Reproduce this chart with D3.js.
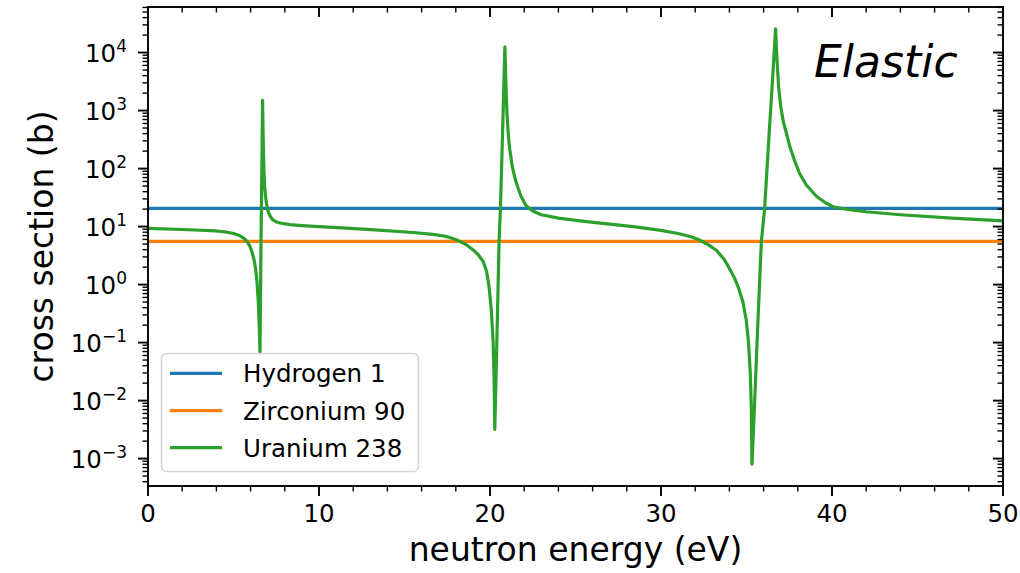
<!DOCTYPE html>
<html>
<head>
<meta charset="utf-8">
<script src="https://cdn.jsdelivr.net/npm/d3@7/dist/d3.min.js"></script>
<style>
  html, body { margin: 0; padding: 0; background: #fff; }
  svg { display: block; }
  text { font-family: "DejaVu Sans", sans-serif; fill: #000; }
</style>
</head>
<body>
<svg id="chart" width="1020" height="573"></svg>
<script>
// Elastic scattering cross sections (barns) against neutron energy (eV)
const seriesNames = ["Hydrogen 1", "Zirconium 90", "Uranium 238"];
const seriesColors = ["#1f77b4", "#ff7f0e", "#2ca02c"];

// Hydrogen 1 and Zirconium 90 are flat over this range
const h1Energy = [0, 50];
const h1Sigma = [20.6, 20.6];
const zr90Energy = [0, 50];
const zr90Sigma = [5.55, 5.55];

// Uranium 238, with its resonances near 6.7, 20.9 and 36.7 eV
const u238Energy = [
  0, 2, 4, 4.5, 5.0, 5.3, 5.6, 5.8, 5.96, 6.1, 6.2, 6.3, 6.38, 6.45, 6.5, 6.55,
  6.6, 6.65, 6.70,
  6.72, 6.75, 6.78, 6.82, 6.88, 6.95, 7.03, 7.15, 7.3, 7.5, 7.8, 8.3, 9, 10,
  11.6, 13.5, 15.5, 16.5, 17.0, 17.5, 18.0, 18.2, 18.6, 19.0, 19.3, 19.6,
  19.8, 19.95, 20.08, 20.18, 20.24, 20.28,
  20.40, 20.53, 20.61, 20.75, 20.87,
  20.93, 20.99, 21.08, 21.16, 21.3, 21.45, 21.6, 21.8, 22.1, 22.5, 23.0,
  24.0, 25.5, 27, 28.5, 30, 31, 31.8, 32.3, 32.8, 33.24, 33.7, 34.0, 34.3,
  34.55, 34.79, 34.98, 35.12, 35.22, 35.28, 35.32,
  35.48, 35.65, 35.87, 36.06, 36.35, 36.53, 36.70,
  36.78, 36.88, 37.0, 37.15, 37.33, 37.55, 37.8, 38.1, 38.5, 39.1, 39.6,
  40.05, 41, 42, 44, 47, 50
];
const u238Sigma = [
  9.3, 8.9, 8.4, 8.1, 7.6, 7.1, 6.3, 5.5, 4.6, 3.5, 2.7, 1.8, 1.07, 0.5, 0.22, 0.066,
  3, 60, 1500,
  600, 200, 90, 50, 32, 23, 18, 15, 13, 12, 11.4, 10.8, 10.4, 10.0,
  9.4, 8.7, 7.9, 7.4, 7.1, 6.7, 6.0, 5.6, 4.9, 4.0, 3.3, 2.5,
  1.7, 0.9, 0.35, 0.11, 0.025, 0.0032,
  0.1, 5.5, 20.5, 600, 12600,
  3000, 900, 350, 210, 110, 70, 50, 34, 23, 18.5, 16,
  14, 12.3, 11, 9.9, 8.6, 7.6, 6.6, 5.8, 4.8, 3.9, 2.7, 1.9, 1.3,
  0.85, 0.5, 0.25, 0.1, 0.03, 0.008, 0.0008,
  0.01, 0.175, 5.5, 20.5, 535, 3700, 25700,
  8000, 2500, 1200, 650, 410, 230, 140, 83, 52, 33, 26,
  22, 19.5, 18, 16, 14, 12.5
];

const xTicks = [0, 10, 20, 30, 40, 50];
const yTickExponents = [-3, -2, -1, 0, 1, 2, 3, 4];

const series = [
  { name: seriesNames[0], color: seriesColors[0], x: h1Energy, y: h1Sigma },
  { name: seriesNames[1], color: seriesColors[1], x: zr90Energy, y: zr90Sigma },
  { name: seriesNames[2], color: seriesColors[2], x: u238Energy, y: u238Sigma }
];

const svg = d3.select("#chart");
const plot = { left: 148, right: 1003, top: 7, bottom: 486 };

const x = d3.scaleLinear().domain([0, 50]).range([plot.left, plot.right]);

// log axis padded by 5% of the data span in log space
const allY = series.flatMap(s => s.y);
const lo = Math.log10(d3.min(allY)), hi = Math.log10(d3.max(allY));
const pad = 0.05 * (hi - lo);
const y = d3.scaleLog()
  .domain([Math.pow(10, lo - pad), Math.pow(10, hi + pad)])
  .range([plot.bottom, plot.top]);

svg.append("defs").append("clipPath").attr("id", "plotclip")
  .append("rect")
  .attr("x", plot.left).attr("y", plot.top)
  .attr("width", plot.right - plot.left).attr("height", plot.bottom - plot.top);

// data lines
const line = d3.line().x(d => x(d[0])).y(d => y(d[1]));
const lines = svg.append("g").attr("clip-path", "url(#plotclip)");
series.forEach(s => {
  lines.append("path")
    .datum(s.x.map((e, i) => [e, s.y[i]]))
    .attr("d", line)
    .attr("fill", "none")
    .attr("stroke", s.color)
    .attr("stroke-width", 3.2)
    .attr("stroke-linejoin", "round")
    .attr("stroke-linecap", "butt");
});

// ticks: outward on bottom/left, inward on top/right
const majorLen = 10, minorLen = 5.5;
const ticks = svg.append("g").attr("stroke", "#000");
const xMinor = d3.range(0, 50.001, 2).filter(v => v % 10 !== 0);
xTicks.forEach(v => {
  ticks.append("line").attr("x1", x(v)).attr("x2", x(v))
    .attr("y1", plot.bottom).attr("y2", plot.bottom + majorLen).attr("stroke-width", 1.9);
  ticks.append("line").attr("x1", x(v)).attr("x2", x(v))
    .attr("y1", plot.top).attr("y2", plot.top + majorLen).attr("stroke-width", 1.9);
});
xMinor.forEach(v => {
  ticks.append("line").attr("x1", x(v)).attr("x2", x(v))
    .attr("y1", plot.bottom).attr("y2", plot.bottom + minorLen).attr("stroke-width", 1.4);
  ticks.append("line").attr("x1", x(v)).attr("x2", x(v))
    .attr("y1", plot.top).attr("y2", plot.top + minorLen).attr("stroke-width", 1.4);
});

const [yLo, yHi] = y.domain();
yTickExponents.forEach(k => {
  const yy = y(Math.pow(10, k));
  ticks.append("line").attr("x1", plot.left - majorLen).attr("x2", plot.left)
    .attr("y1", yy).attr("y2", yy).attr("stroke-width", 1.9);
  ticks.append("line").attr("x1", plot.right - majorLen).attr("x2", plot.right)
    .attr("y1", yy).attr("y2", yy).attr("stroke-width", 1.9);
});
for (let k = -5; k <= 5; k++) {
  for (let m = 2; m <= 9; m++) {
    const v = m * Math.pow(10, k);
    if (v < yLo || v > yHi) continue;
    const yy = y(v);
    ticks.append("line").attr("x1", plot.left - minorLen).attr("x2", plot.left)
      .attr("y1", yy).attr("y2", yy).attr("stroke-width", 1.4);
    ticks.append("line").attr("x1", plot.right - minorLen).attr("x2", plot.right)
      .attr("y1", yy).attr("y2", yy).attr("stroke-width", 1.4);
  }
}

// frame
svg.append("rect")
  .attr("x", plot.left).attr("y", plot.top)
  .attr("width", plot.right - plot.left).attr("height", plot.bottom - plot.top)
  .attr("fill", "none").attr("stroke", "#000").attr("stroke-width", 1.9);

// tick labels
const labelFont = 24.5;
svg.append("g").selectAll("text").data(xTicks).join("text")
  .attr("x", d => x(d)).attr("y", 522)
  .attr("text-anchor", "middle")
  .attr("font-size", labelFont)
  .text(d => d);

const yl = svg.append("g");
yTickExponents.forEach(k => {
  const t = yl.append("text")
    .attr("x", 127).attr("y", y(Math.pow(10, k)) + 9)
    .attr("text-anchor", "end")
    .attr("font-size", labelFont);
  t.append("tspan").text("10");
  t.append("tspan")
    .attr("font-size", 17)
    .attr("dy", -10)
    .text(k < 0 ? "\u2212" + Math.abs(k) : String(k));
});

// axis titles
svg.append("text")
  .attr("x", (plot.left + plot.right) / 2).attr("y", 561)
  .attr("text-anchor", "middle").attr("font-size", 33)
  .text("neutron energy (eV)");
svg.append("text")
  .attr("transform", `translate(53,${(plot.top + plot.bottom) / 2}) rotate(-90)`)
  .attr("text-anchor", "middle").attr("font-size", 33)
  .text("cross section (b)");

// panel title
svg.append("text")
  .attr("x", 814).attr("y", 77)
  .attr("font-family", "'Liberation Sans', Arial, sans-serif")
  .attr("font-style", "italic")
  .attr("font-size", 44)
  .text("Elastic");

// legend
const lg = svg.append("g");
lg.append("rect")
  .attr("x", 161.5).attr("y", 353.5).attr("width", 257).attr("height", 118)
  .attr("rx", 5).attr("ry", 5)
  .attr("fill", "#fff").attr("fill-opacity", 0.8)
  .attr("stroke", "#d6d6d6").attr("stroke-width", 1.6);
const legendRows = [373.3, 410.7, 447.7];
series.forEach((s, i) => {
  lg.append("line")
    .attr("x1", 170).attr("x2", 222)
    .attr("y1", legendRows[i]).attr("y2", legendRows[i])
    .attr("stroke", s.color).attr("stroke-width", 3.2);
  lg.append("text")
    .attr("x", 243).attr("y", legendRows[i] + 9)
    .attr("font-size", labelFont)
    .text(s.name);
});
</script>
</body>
</html>
